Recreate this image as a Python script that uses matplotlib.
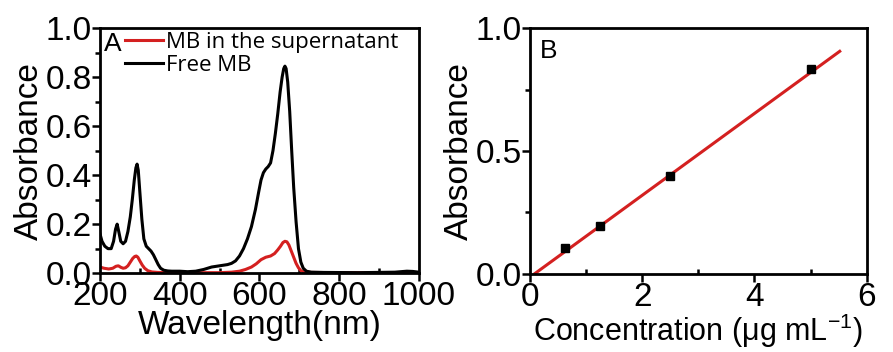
import numpy as np
import matplotlib
matplotlib.use("Agg")
import matplotlib.pyplot as plt
from matplotlib.ticker import MultipleLocator

plt.rcParams['font.family'] = ['Liberation Sans', 'DejaVu Sans']
plt.rcParams['mathtext.fontset'] = 'custom'
plt.rcParams['mathtext.rm'] = 'Liberation Sans'
plt.rcParams['mathtext.it'] = 'Liberation Sans'

# --- panel A: UV-vis spectra ---
wl_free = [200, 205, 212, 220, 228, 234, 239, 243, 247, 252, 258, 264, 270, 276, 281, 286, 290,
           293, 296, 300, 305, 310, 316, 322, 328, 334, 340, 346, 352, 360, 370, 380, 400, 420,
           440, 460, 480, 500, 520, 530, 540, 550, 560, 570, 580, 590, 598, 604, 610, 616, 622,
           628, 634, 640, 646, 652, 657, 661, 664, 667, 671, 676, 681, 686, 692, 698, 704, 710,
           718, 730, 760, 850, 940, 970, 985, 1000]
abs_free = [0.16, 0.13, 0.11, 0.10, 0.10, 0.13, 0.18, 0.20, 0.17, 0.13, 0.12, 0.13, 0.17, 0.23, 0.30, 0.38, 0.43,
            0.445, 0.42, 0.33, 0.22, 0.14, 0.11, 0.10, 0.09, 0.075, 0.055, 0.035, 0.02, 0.012, 0.009, 0.008, 0.008, 0.006,
            0.008, 0.015, 0.025, 0.03, 0.035, 0.04, 0.05, 0.07, 0.10, 0.14, 0.19, 0.26, 0.33, 0.38, 0.41, 0.425, 0.435,
            0.45, 0.50, 0.57, 0.65, 0.74, 0.80, 0.835, 0.845, 0.835, 0.78, 0.66, 0.50, 0.35, 0.21, 0.10, 0.045, 0.02,
            0.008, 0.004, 0.003, 0.002, 0.004, 0.008, 0.007, 0.004]

wl_sup = [200, 210, 222, 232, 240, 246, 252, 258, 264, 270, 276, 282, 287, 291, 295, 300, 306, 312, 320,
          330, 345, 400, 500, 530, 550, 565, 580, 592, 604, 616, 628, 638, 646, 653, 659, 664, 669,
          674, 680, 686, 692, 698, 704, 712, 730, 800, 1000]
abs_sup = [0.025, 0.02, 0.017, 0.02, 0.028, 0.03, 0.024, 0.02, 0.022, 0.03, 0.045, 0.06, 0.068, 0.07, 0.065, 0.05, 0.033, 0.02, 0.01,
           0.005, 0.003, 0.002, 0.002, 0.004, 0.008, 0.015, 0.025, 0.038, 0.055, 0.065, 0.07, 0.08, 0.095, 0.11, 0.125, 0.13, 0.128,
           0.115, 0.09, 0.065, 0.04, 0.022, 0.01, 0.005, 0.003, 0.002, 0.002]

# --- panel B: calibration ---
conc = [0.625, 1.25, 2.5, 5.0]
absorb = [0.105, 0.195, 0.400, 0.835]
fit_x = [0.08, 5.52]
slope, intercept = 0.1665, -0.0133

fig = plt.figure(figsize=(8.93, 3.52), dpi=100)
axA = fig.add_axes([0.112, 0.224, 0.357, 0.696])
axB = fig.add_axes([0.5935, 0.222, 0.377, 0.698])

for ax in (axA, axB):
    for s in ax.spines.values():
        s.set_linewidth(2)
    ax.tick_params(which='major', direction='out', length=6, width=1.8, labelsize=24, pad=0)
    ax.tick_params(axis='y', which='minor', direction='out', length=3.5, width=1.8)
    ax.tick_params(axis='x', which='minor', direction='in', length=3.5, width=1.8)

axA.plot(wl_sup, abs_sup, color='#d42020', lw=2.2, label='MB in the supernatant')
axA.plot(wl_free, abs_free, color='black', lw=2.2, label='Free MB')
axA.set_xlim(200, 1000)
axA.set_ylim(0, 1.0)
axA.xaxis.set_major_locator(MultipleLocator(200))
axA.xaxis.set_minor_locator(MultipleLocator(100))
axA.yaxis.set_major_locator(MultipleLocator(0.2))
axA.yaxis.set_minor_locator(MultipleLocator(0.1))
axA.set_xlabel('Wavelength(nm)', fontsize=24, labelpad=-2)
axA.set_ylabel('Absorbance', fontsize=24, labelpad=0)
axA.text(0.012, 0.985, 'A', transform=axA.transAxes, fontsize=19, va='top', ha='left')
axA.legend(loc='upper left', bbox_to_anchor=(0.035, 1.04), frameon=False,
           prop={'family': 'Open Sans', 'size': 16}, handlelength=1.75, handletextpad=0.1,
           labelspacing=0.1, borderaxespad=0.2)

fit_y = [slope * x + intercept for x in fit_x]
axB.plot(fit_x, fit_y, color='#d42020', lw=2.2)
axB.plot(conc, absorb, 's', color='black', ms=6)
axB.set_xlim(0, 6)
axB.set_ylim(0, 1.0)
axB.xaxis.set_major_locator(MultipleLocator(2))
axB.xaxis.set_minor_locator(MultipleLocator(1))
axB.yaxis.set_major_locator(MultipleLocator(0.5))
axB.yaxis.set_minor_locator(MultipleLocator(0.25))
axB.set_xlabel('Concentration (μg mL$^{-1}$)', fontsize=22, labelpad=-1)
axB.set_ylabel('Absorbance', fontsize=24, labelpad=0)
axB.text(0.03, 0.955, 'B', transform=axB.transAxes, fontsize=19, va='top', ha='left')

fig.savefig('out.png', dpi=100)
